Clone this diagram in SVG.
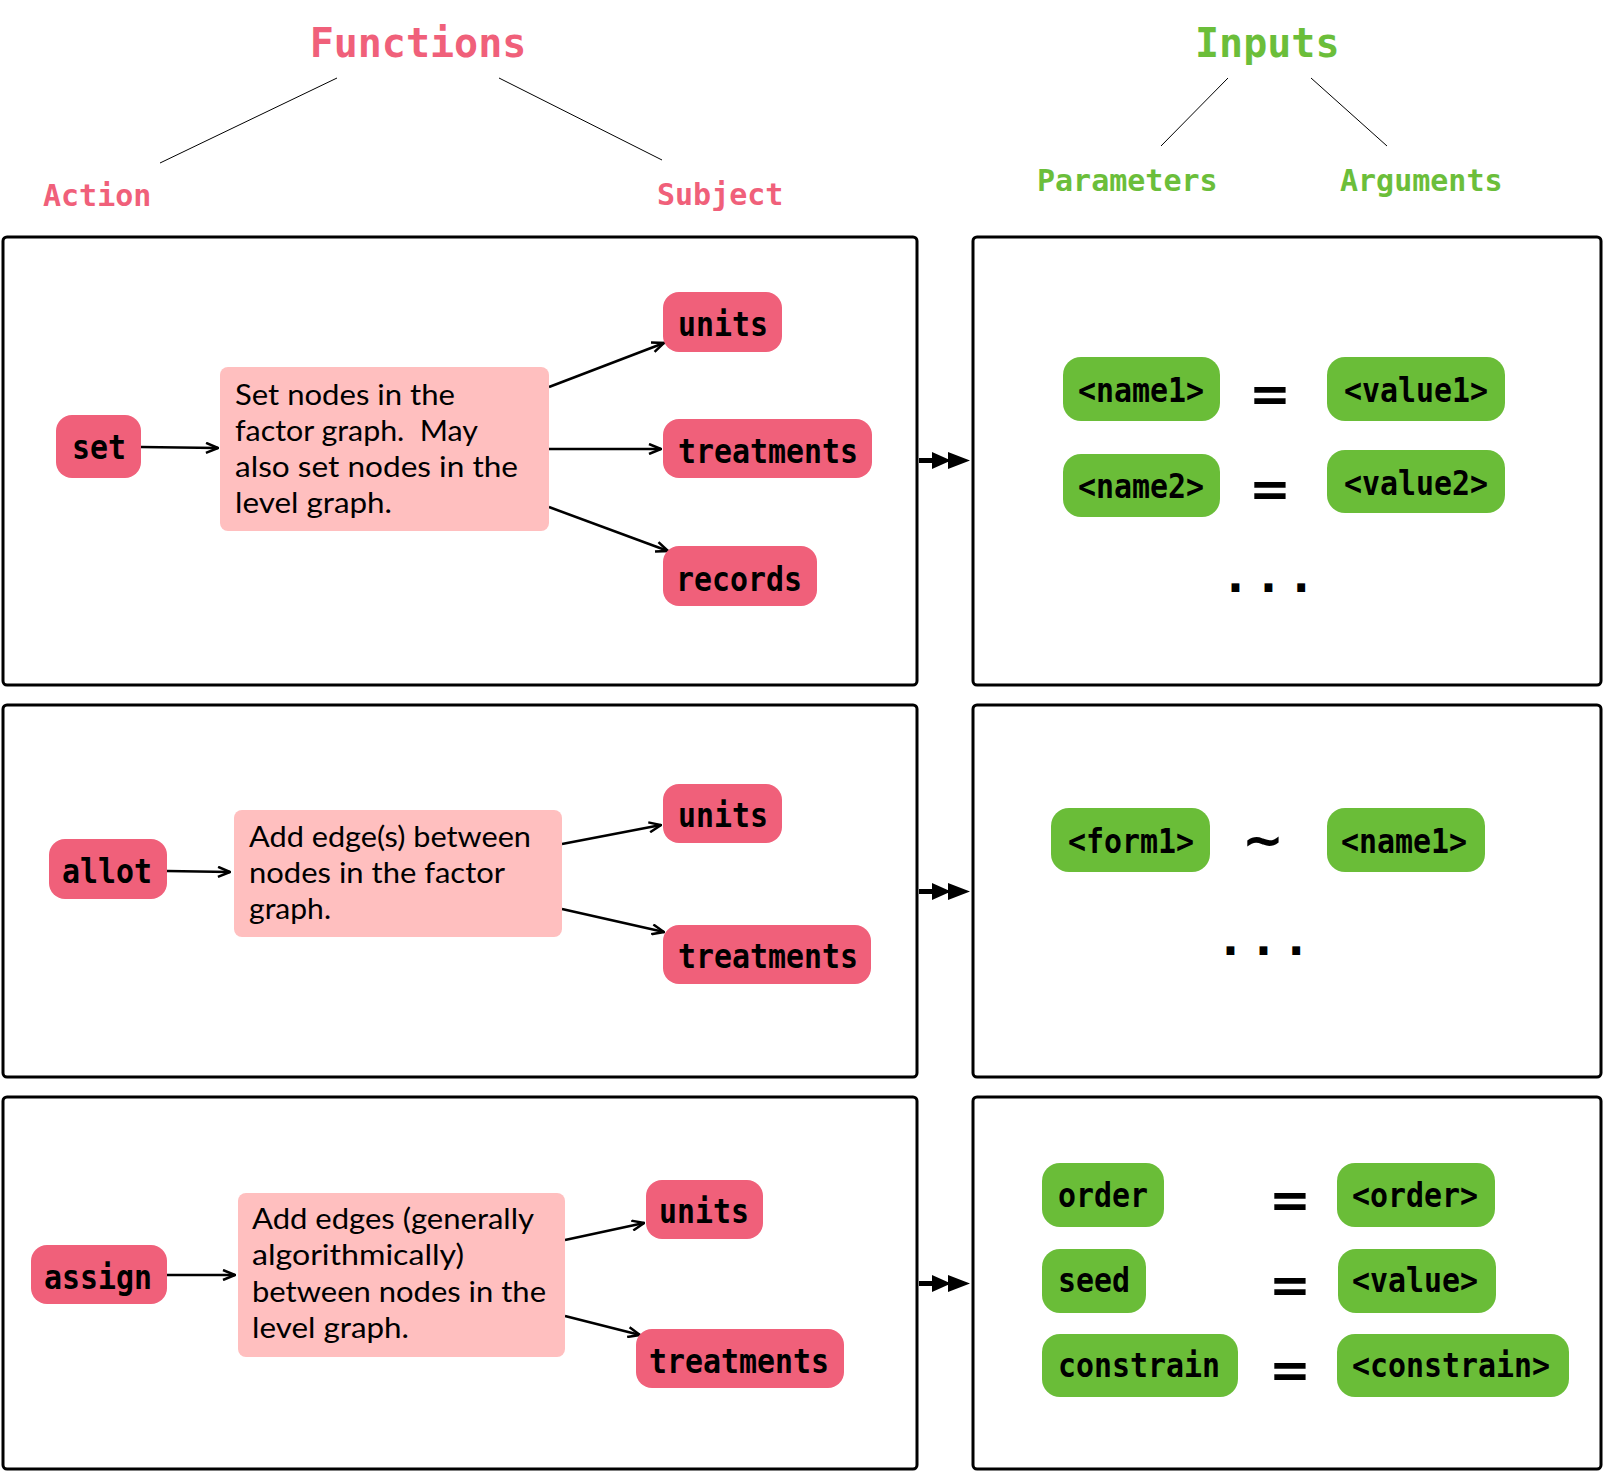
<svg xmlns="http://www.w3.org/2000/svg" width="1604" height="1471" viewBox="0 0 1604 1471">
<defs>
<style>
.bg{fill:#ffffff}
.frame{fill:none;stroke:#000;stroke-width:3}
.title{font-family:"DejaVu Sans Mono",monospace;font-weight:bold;font-size:40px}
.sub{font-family:"DejaVu Sans Mono",monospace;font-weight:bold;font-size:30px}
.pinkt{fill:#F0607A}
.greent{fill:#6BBE3A}
.pnode{fill:#F0607A}
.gnode{fill:#6ABD38}
.desc{fill:#FFBFBF}
.lbl{font-family:"DejaVu Sans Mono",monospace;font-weight:bold;font-size:33px;fill:#000}
.dtxt{font-family:Lato,"Noto Sans",sans-serif;font-size:29px;fill:#000}
.op{font-family:"DejaVu Sans",sans-serif;font-weight:bold;font-size:50px;fill:#000}
.dots{font-family:"DejaVu Sans Mono",monospace;font-weight:bold;font-size:48px;letter-spacing:4px;fill:#000}
.thin{stroke:#000;stroke-width:1;fill:none}
.edge{stroke:#000;stroke-width:2.5;fill:none;marker-end:url(#vee)}
.dbl{fill:#000}
</style>
<marker id="vee" viewBox="0 0 14 12" refX="13" refY="6" markerWidth="14" markerHeight="12" orient="auto" markerUnits="userSpaceOnUse">
<path d="M1,1 L13,6 L1,11" fill="none" stroke="#000" stroke-width="2.5"/>
</marker>
</defs>
<rect class="bg" x="0" y="0" width="1604" height="1471"/>

<g id="headers">
<text class="title pinkt" x="418" y="57" text-anchor="middle">Functions</text>
<text class="sub pinkt" x="43" y="206">Action</text>
<text class="sub pinkt" x="657" y="205">Subject</text>
<text class="title greent" x="1195" y="57">Inputs</text>
<text class="sub greent" x="1037" y="191">Parameters</text>
<text class="sub greent" x="1340" y="191">Arguments</text>
<line class="thin" x1="337" y1="78" x2="160" y2="163"/>
<line class="thin" x1="499" y1="78" x2="662" y2="160"/>
<line class="thin" x1="1228" y1="78" x2="1161" y2="146"/>
<line class="thin" x1="1311" y1="78" x2="1387" y2="146"/>
</g>

<g id="frames">
<rect class="frame" x="3" y="237" width="914" height="448" rx="4"/>
<rect class="frame" x="973" y="237" width="628" height="448" rx="4"/>
<rect class="frame" x="3" y="705" width="914" height="372" rx="4"/>
<rect class="frame" x="973" y="705" width="628" height="372" rx="4"/>
<rect class="frame" x="3" y="1097" width="914" height="372" rx="4"/>
<rect class="frame" x="973" y="1097" width="628" height="372" rx="4"/>
</g>

<g id="connectors">
<line class="edge" x1="141" y1="447" x2="218" y2="448"/>
<line class="edge" x1="549" y1="387" x2="664" y2="343"/>
<line class="edge" x1="549" y1="449" x2="661" y2="449"/>
<line class="edge" x1="549" y1="507" x2="668" y2="551"/>
<line class="edge" x1="167" y1="871" x2="230" y2="872"/>
<line class="edge" x1="562" y1="844" x2="661" y2="825"/>
<line class="edge" x1="562" y1="909" x2="664" y2="932"/>
<line class="edge" x1="167" y1="1275" x2="235" y2="1275"/>
<line class="edge" x1="565" y1="1240" x2="644" y2="1223"/>
<line class="edge" x1="565" y1="1316" x2="640" y2="1335"/>
<g id="double-arrows">
<path class="dbl" d="M919,458 H936 V463 H919 Z M932,452 L951,460.5 L932,469 Z M948,452 L970,460.5 L948,469 Z"/>
<path class="dbl" d="M919,889 H936 V894 H919 Z M932,883 L951,891.5 L932,900 Z M948,883 L970,891.5 L948,900 Z"/>
<path class="dbl" d="M919,1281 H936 V1286 H919 Z M932,1275 L951,1283.5 L932,1292 Z M948,1275 L970,1283.5 L948,1292 Z"/>
</g>
</g>

<g id="node-set"><rect class="pnode" x="56" y="415" width="85" height="63" rx="16"/><text class="lbl" x="72" y="459" textLength="54" lengthAdjust="spacingAndGlyphs">set</text></g>
<g id="node-set-desc"><rect class="desc" x="220" y="367" width="329" height="164" rx="8"/>
<text class="dtxt" x="235" y="405" textLength="220" lengthAdjust="spacingAndGlyphs">Set nodes in the</text>
<text class="dtxt" x="235" y="441" textLength="243" lengthAdjust="spacingAndGlyphs" xml:space="preserve">factor graph.  May</text>
<text class="dtxt" x="235" y="477" textLength="283" lengthAdjust="spacingAndGlyphs">also set nodes in the</text>
<text class="dtxt" x="235" y="513" textLength="157" lengthAdjust="spacingAndGlyphs">level graph.</text>
</g>
<g id="node-set-units"><rect class="pnode" x="663" y="292" width="119" height="60" rx="16"/><text class="lbl" x="678" y="336" textLength="90" lengthAdjust="spacingAndGlyphs">units</text></g>
<g id="node-set-treatments"><rect class="pnode" x="663" y="419" width="209" height="59" rx="16"/><text class="lbl" x="678" y="463" textLength="180" lengthAdjust="spacingAndGlyphs">treatments</text></g>
<g id="node-set-records"><rect class="pnode" x="663" y="546" width="154" height="60" rx="16"/><text class="lbl" x="676" y="591" textLength="126" lengthAdjust="spacingAndGlyphs">records</text></g>

<g id="node-name1"><rect class="gnode" x="1063" y="357" width="157" height="64" rx="18"/><text class="lbl" x="1078" y="402" textLength="126" lengthAdjust="spacingAndGlyphs">&lt;name1&gt;</text></g>
<g id="node-value1"><rect class="gnode" x="1327" y="357" width="178" height="64" rx="18"/><text class="lbl" x="1344" y="402" textLength="144" lengthAdjust="spacingAndGlyphs">&lt;value1&gt;</text></g>
<g id="node-name2"><rect class="gnode" x="1063" y="454" width="157" height="63" rx="18"/><text class="lbl" x="1078" y="498" textLength="126" lengthAdjust="spacingAndGlyphs">&lt;name2&gt;</text></g>
<g id="node-value2"><rect class="gnode" x="1327" y="450" width="178" height="63" rx="18"/><text class="lbl" x="1344" y="495" textLength="144" lengthAdjust="spacingAndGlyphs">&lt;value2&gt;</text></g>
<g id="ops-top">
<text class="op" x="1270" y="411" text-anchor="middle">=</text>
<text class="op" x="1270" y="506" text-anchor="middle">=</text>
<text class="dots" x="1221" y="592">...</text>
</g>

<g id="node-allot"><rect class="pnode" x="49" y="839" width="118" height="60" rx="16"/><text class="lbl" x="62" y="883" textLength="90" lengthAdjust="spacingAndGlyphs">allot</text></g>
<g id="node-allot-desc"><rect class="desc" x="234" y="810" width="328" height="127" rx="8"/>
<text class="dtxt" x="249" y="847" textLength="282" lengthAdjust="spacingAndGlyphs">Add edge(s) between</text>
<text class="dtxt" x="249" y="883" textLength="256" lengthAdjust="spacingAndGlyphs">nodes in the factor</text>
<text class="dtxt" x="249" y="919" textLength="82" lengthAdjust="spacingAndGlyphs">graph.</text>
</g>
<g id="node-allot-units"><rect class="pnode" x="663" y="784" width="119" height="59" rx="16"/><text class="lbl" x="678" y="827" textLength="90" lengthAdjust="spacingAndGlyphs">units</text></g>
<g id="node-allot-treatments"><rect class="pnode" x="663" y="925" width="208" height="59" rx="16"/><text class="lbl" x="678" y="968" textLength="180" lengthAdjust="spacingAndGlyphs">treatments</text></g>

<g id="node-form1"><rect class="gnode" x="1051" y="808" width="159" height="64" rx="18"/><text class="lbl" x="1068" y="853" textLength="126" lengthAdjust="spacingAndGlyphs">&lt;form1&gt;</text></g>
<g id="node-name1b"><rect class="gnode" x="1327" y="808" width="158" height="64" rx="18"/><text class="lbl" x="1341" y="853" textLength="126" lengthAdjust="spacingAndGlyphs">&lt;name1&gt;</text></g>
<g id="ops-mid">
<text class="op" x="1263" y="857" text-anchor="middle">~</text>
<text class="dots" x="1216" y="955">...</text>
</g>

<g id="node-assign"><rect class="pnode" x="31" y="1245" width="136" height="59" rx="16"/><text class="lbl" x="44" y="1289" textLength="108" lengthAdjust="spacingAndGlyphs">assign</text></g>
<g id="node-assign-desc"><rect class="desc" x="238" y="1193" width="327" height="164" rx="8"/>
<text class="dtxt" x="252" y="1229" textLength="282" lengthAdjust="spacingAndGlyphs">Add edges (generally</text>
<text class="dtxt" x="252" y="1265" textLength="212" lengthAdjust="spacingAndGlyphs">algorithmically)</text>
<text class="dtxt" x="252" y="1302" textLength="294" lengthAdjust="spacingAndGlyphs">between nodes in the</text>
<text class="dtxt" x="252" y="1338" textLength="157" lengthAdjust="spacingAndGlyphs">level graph.</text>
</g>
<g id="node-assign-units"><rect class="pnode" x="646" y="1180" width="117" height="59" rx="16"/><text class="lbl" x="659" y="1223" textLength="90" lengthAdjust="spacingAndGlyphs">units</text></g>
<g id="node-assign-treatments"><rect class="pnode" x="636" y="1329" width="208" height="59" rx="16"/><text class="lbl" x="649" y="1373" textLength="180" lengthAdjust="spacingAndGlyphs">treatments</text></g>

<g id="node-order"><rect class="gnode" x="1042" y="1163" width="122" height="64" rx="18"/><text class="lbl" x="1058" y="1207" textLength="90" lengthAdjust="spacingAndGlyphs">order</text></g>
<g id="node-order-val"><rect class="gnode" x="1337" y="1163" width="158" height="64" rx="18"/><text class="lbl" x="1352" y="1207" textLength="126" lengthAdjust="spacingAndGlyphs">&lt;order&gt;</text></g>
<g id="node-seed"><rect class="gnode" x="1042" y="1249" width="104" height="64" rx="18"/><text class="lbl" x="1058" y="1292" textLength="72" lengthAdjust="spacingAndGlyphs">seed</text></g>
<g id="node-seed-val"><rect class="gnode" x="1338" y="1249" width="158" height="64" rx="18"/><text class="lbl" x="1352" y="1292" textLength="126" lengthAdjust="spacingAndGlyphs">&lt;value&gt;</text></g>
<g id="node-constrain"><rect class="gnode" x="1042" y="1334" width="196" height="63" rx="18"/><text class="lbl" x="1058" y="1377" textLength="162" lengthAdjust="spacingAndGlyphs">constrain</text></g>
<g id="node-constrain-val"><rect class="gnode" x="1337" y="1334" width="232" height="63" rx="18"/><text class="lbl" x="1352" y="1377" textLength="198" lengthAdjust="spacingAndGlyphs">&lt;constrain&gt;</text></g>
<g id="ops-bottom">
<text class="op" x="1290" y="1217" text-anchor="middle">=</text>
<text class="op" x="1290" y="1302" text-anchor="middle">=</text>
<text class="op" x="1290" y="1387" text-anchor="middle">=</text>
</g>
</svg>
